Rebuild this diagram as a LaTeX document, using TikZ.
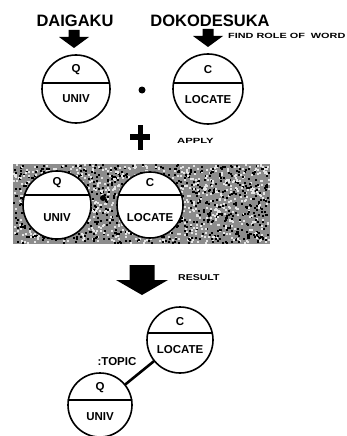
\documentclass[tikz,border=0pt]{standalone}
\usepackage{fontspec}
\setmainfont{Liberation Sans}
\tikzset{
  concept/.style={circle, draw, line width=1.6pt, fill=white, inner sep=0pt},
  lbl/.style={inner sep=0pt, font=\fontsize{11.5}{11.5}\selectfont\bfseries},
  word/.style={inner sep=0pt, font=\fontsize{16.5}{16.5}\selectfont\bfseries},
  note/.style={inner sep=0pt, anchor=west, font=\fontsize{7.5}{7.5}\selectfont\bfseries},
}
\begin{document}
\begin{tikzpicture}[x=1pt,y=-1pt,line cap=round,line join=round]
  \useasboundingbox (0,0) rectangle (346,436);
  % words and block arrows
  \node[word] (daigaku) at (75,21) {DAIGAKU};
  \node[word] (dokodesuka) at (210,21) {DOKODESUKA};
  \foreach \cx/\ta/\hb/\tip/\sw/\hw in {74/30/37/48/5.5/15,208/29/36/47/5.5/15,142/265/280/295/12.5/26} {
    \fill ({\cx-\sw},\ta) -- ({\cx+\sw},\ta) -- ({\cx+\sw},\hb) -- ({\cx+\hw},\hb)
      -- (\cx,\tip) -- ({\cx-\hw},\hb) -- ({\cx-\sw},\hb) -- cycle;
  }
  \node[note] (findrole) at (228,36) {\scalebox{1.45}[1]{FIND ROLE OF~~WORD}};
  % shaded box
  \fill[black!45] (13,164) rectangle (270,244);
  \pgfmathsetseed{17}
  \foreach \i in {1,...,900} {
    \fill[white!90!black] ({13+255*rnd},{164+78*rnd}) rectangle +(2,2);
    \fill[black] ({13+255*rnd},{164+78*rnd}) rectangle +(2,2);
  }
  % concepts
  \foreach \n/\x/\y/\r/\d/\ty/\by/\top/\bot in {
      q1/76/89/34/6/70/99/Q/UNIV, c1/208/89/35/6/70/100/C/LOCATE,
      q2/57/205/34/10/183/218/Q/UNIV, c2/150/205/33/10/183/218/C/LOCATE,
      c3/180/340/33/7/322/350/C/LOCATE, q3/100/405/32/5/388/417/Q/UNIV} {
    \node[concept, minimum size={2*\r}] (\n) at (\x,\y) {};
    \draw[line width=1.8pt] ({\x-sqrt(\r*\r-\d*\d)},{\y-\d}) -- ({\x+sqrt(\r*\r-\d*\d)},{\y-\d});
    \node[lbl] (\n-top) at (\x,\ty) {\top};
    \node[lbl] (\n-bot) at (\x,\by) {\bot};
  }
  \fill (142,90) circle (3.5);
  \fill (103,198) circle (3);
  % apply
  \fill (130,134) rectangle (150,140);
  \fill (137.5,125) rectangle (142.5,150);
  \node[note] (apply) at (177,141) {\scalebox{1.5}[1]{APPLY}};
  \node[note, font=\fontsize{8.5}{8.5}\selectfont\bfseries] (result) at (178,278) {\scalebox{1.24}[1]{RESULT}};
  % result
  \draw[line width=2.6pt] (c3) -- (q3);
  \node[lbl] (topic) at (117,362) {:TOPIC};
\end{tikzpicture}
\end{document}
